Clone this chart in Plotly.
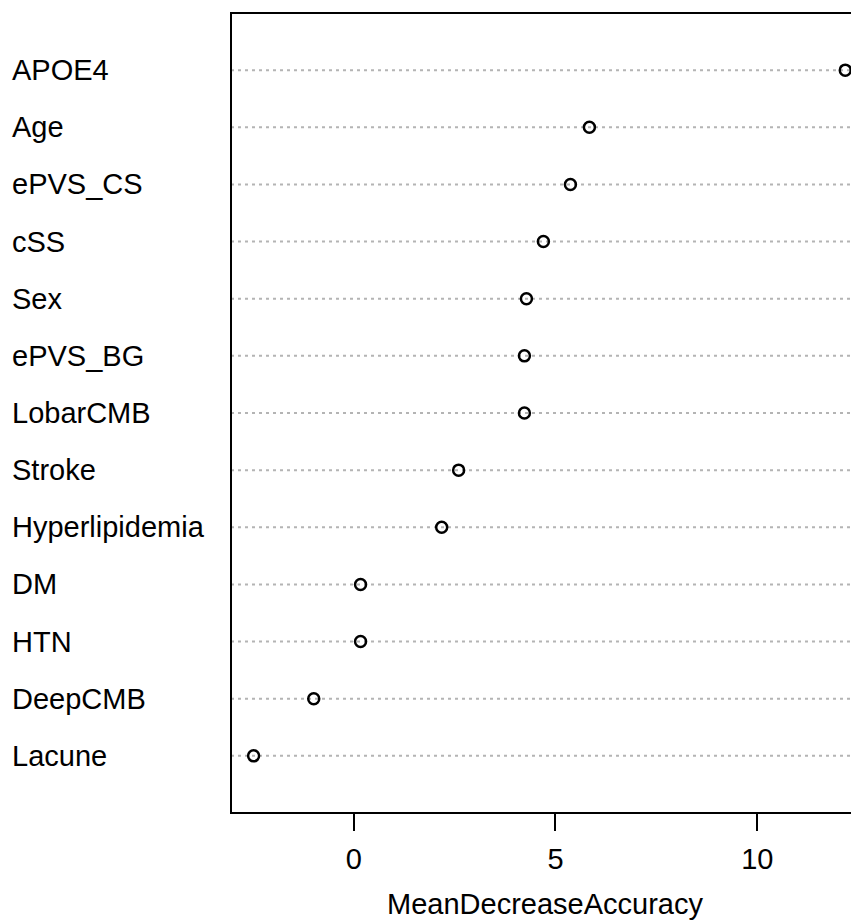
import plotly.graph_objects as go

variables = ["APOE4", "Age", "ePVS_CS", "cSS", "Sex", "ePVS_BG", "LobarCMB",
             "Stroke", "Hyperlipidemia", "DM", "HTN", "DeepCMB", "Lacune"]
mean_decrease_accuracy = [12.18, 5.84, 5.37, 4.70, 4.28, 4.23, 4.23,
                          2.60, 2.18, 0.17, 0.17, -0.99, -2.48]
x_tick_vals = [0, 5, 10]
x_tick_text = ["0", "5", "10"]
x_title = "MeanDecreaseAccuracy"

n = len(variables)
ypos = [n - i for i in range(n)]  # APOE4 at top

FONT = "Liberation Sans, Arial, sans-serif"
FS = 29
# page body has an 8px margin, so the figure is sized/placed to compensate
W, H = 851, 912
ML, MR, MT, MB = 223, 0, 5, 107
xr = [-3.04, 12.52]

fig = go.Figure()

# dotted guide lines
for y in ypos:
    fig.add_shape(type="line", xref="x", yref="y", x0=xr[0], x1=xr[1] + 1,
                  y0=y, y1=y, line=dict(color="#b4b4b4", width=2, dash="3px,4px"),
                  layer="below")

fig.add_trace(go.Scatter(
    x=mean_decrease_accuracy, y=ypos, mode="markers",
    marker=dict(symbol="circle-open", size=11, color="black", line=dict(width=2.5, color="black")),
    hoverinfo="x+text", text=variables, showlegend=False, cliponaxis=False,
))

# plot box (right edge lies beyond the visible area)
fig.add_shape(type="rect", xref="paper", yref="paper", x0=0, x1=1.05, y0=0, y1=1,
              line=dict(color="black", width=2), fillcolor="rgba(0,0,0,0)")

# left-aligned category labels
pw = W - ML - MR
for name, y in zip(variables, ypos):
    fig.add_annotation(text=name, xref="paper", yref="y", x=(2 - ML) / pw, y=y,
                       xanchor="left", yanchor="middle", showarrow=False,
                       font=dict(family=FONT, size=FS, color="black"))

fig.update_layout(
    width=W, height=H,
    margin=dict(l=ML, r=MR, t=MT, b=MB, pad=0),
    paper_bgcolor="white", plot_bgcolor="white",
    xaxis=dict(range=xr, tickvals=x_tick_vals, ticktext=x_tick_text,
               ticks="outside", ticklen=17, tickwidth=2, tickcolor="black",
               ticklabelstandoff=3,
               showgrid=False, zeroline=False, showline=False,
               tickfont=dict(family=FONT, size=FS, color="black"),
               title=dict(text=x_title, font=dict(family=FONT, size=FS, color="black"), standoff=20)),
    yaxis=dict(range=[0, n + 1], showticklabels=False, showgrid=False,
               zeroline=False, showline=False, ticks=""),
)

fig.write_html("out.html")
